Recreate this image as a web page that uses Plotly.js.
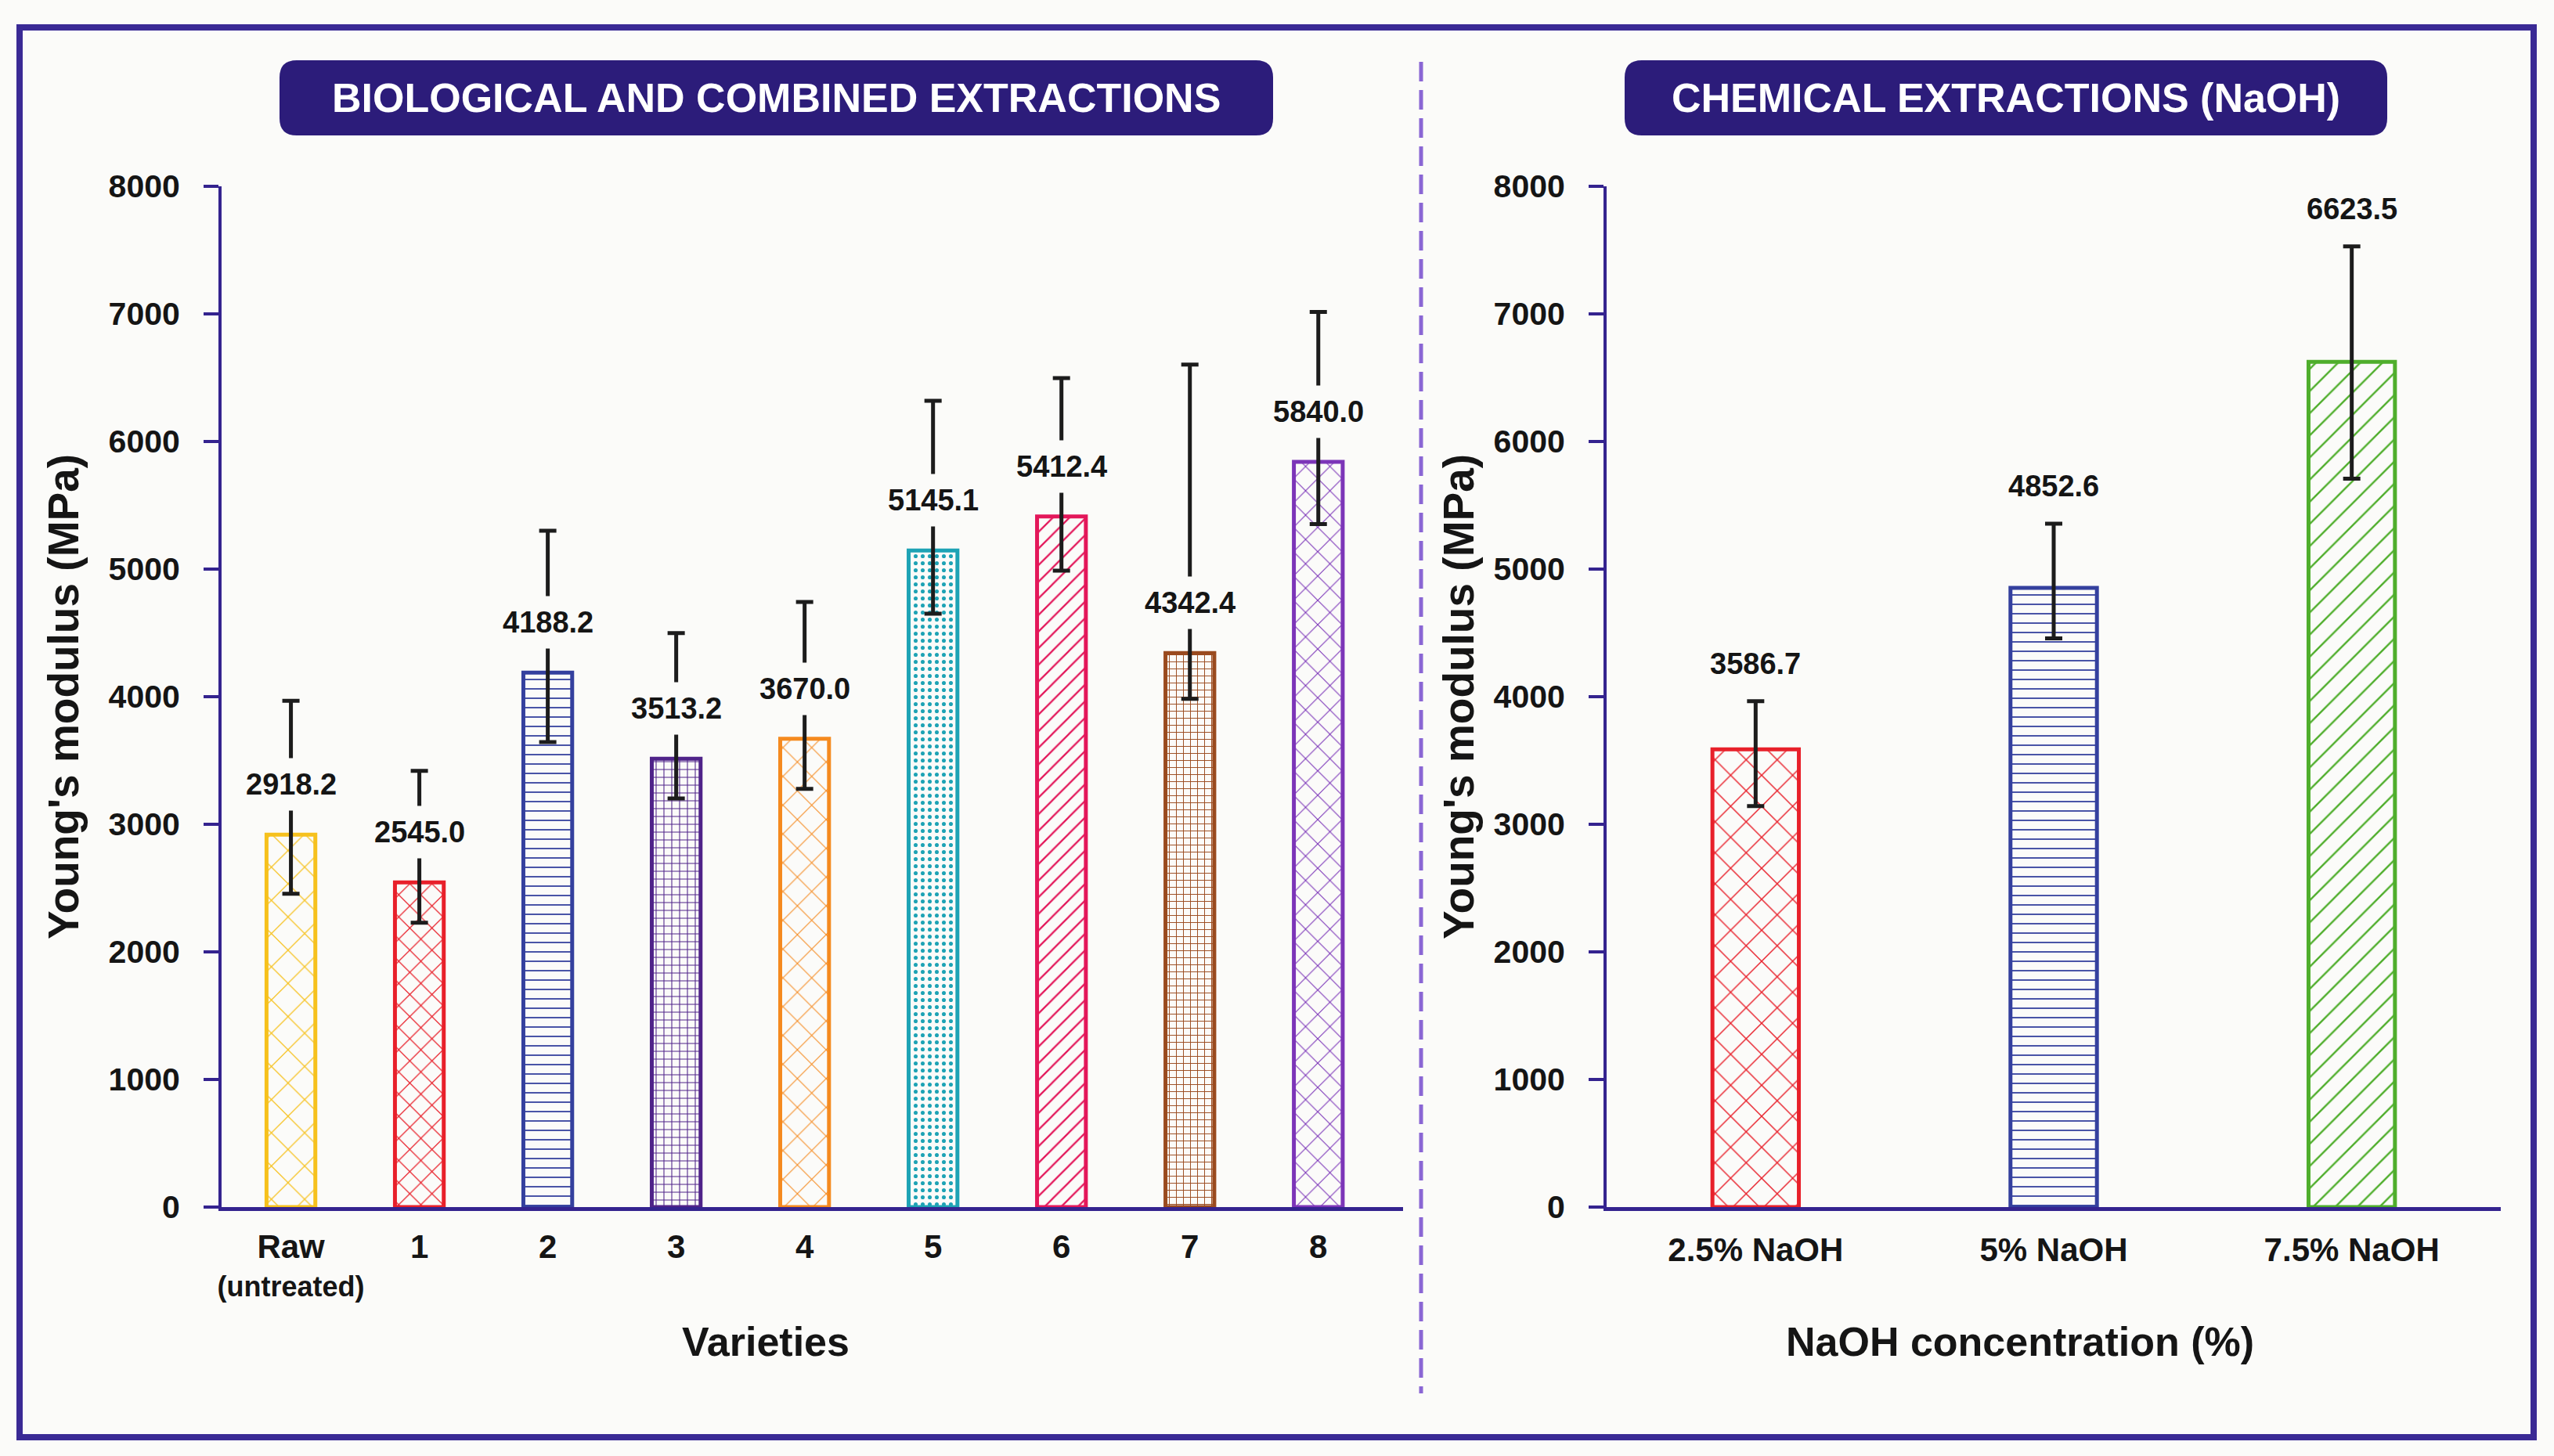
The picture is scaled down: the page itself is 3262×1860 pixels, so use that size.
<!DOCTYPE html>
<html><head><meta charset="utf-8">
<script src="https://cdn.plot.ly/plotly-3.0.1.min.js"></script>
<style>html,body{margin:0;padding:0;background:#fbfbf9;}</style>
</head><body>
<div id="chart" style="width:3262px;height:1860px"></div>
<script>
// ---------- DATA ----------
const varieties = ['Raw', '1', '2', '3', '4', '5', '6', '7', '8'];
const varietyTickText = ['Raw', '1', '2', '3', '4', '5', '6', '7', '8'];
const varietyTickNote = ['(untreated)', '', '', '', '', '', '', '', ''];
const modulusVarieties = [2918.2, 2545.0, 4188.2, 3513.2, 3670.0, 5145.1, 5412.4, 4342.4, 5840.0];
const errPlusVarieties = [1050, 873, 1112, 986, 1072, 1174, 1085, 2261, 1175];
const errMinusVarieties = [462, 317, 544, 310, 392, 495, 425, 360, 487];

const naohLevels = ['2.5% NaOH', '5% NaOH', '7.5% NaOH'];
const modulusNaOH = [3586.7, 4852.6, 6623.5];
const errPlusNaOH = [378, 503, 906];
const errMinusNaOH = [444, 395, 915];

const yTickVals = [0, 1000, 2000, 3000, 4000, 5000, 6000, 7000, 8000];

// ---------- STYLE ----------
const W = 3262, H = 1860;
const px = v => v / W;
const py = v => 1 - v / H;
const FONT = 'Liberation Sans, Arial, Helvetica, sans-serif';
const AXIS = '#34238f';
const BG = '#fbfbf9';
const TXT = '#151515';

const leftColors = ['#f6c11d', '#e8202a', '#34409e', '#4f2389', '#f58a1f', '#1ea3b5', '#e3175a', '#9a4a1e', '#7c35b8'];
const leftHatch  = ['#f8cd45', '#ec4a50', '#5d67b8', '#6b45a0', '#f7a04a', '#5cbfcc', '#e6406f', '#bf6f3a', '#a06ad0'];
const leftShapes = ['x', 'x', '-', '+', 'x', '.', '/', '+', 'x'];
const leftSizes  = [30, 20, 12, 10, 26, 9, 15, 9, 22];
const leftSolid  = [0.08, 0.12, 0.15, 0.2, 0.08, 0.25, 0.15, 0.2, 0.1];

const rightColors = ['#e8202a', '#34409e', '#4fae2c'];
const rightHatch  = ['#ec3a40', '#5560b5', '#6cbd4a'];
const rightShapes = ['x', '-', '/'];
const rightSizes  = [28, 12, 20];
const rightSolid  = [0.1, 0.15, 0.12];

const errStyle = {color: '#1c1c1c', thickness: 5, width: 11};

const traces = [
  {
    type: 'bar', x: varieties, y: modulusVarieties, xaxis: 'x', yaxis: 'y', width: 0.38,
    marker: {
      color: leftColors,
      line: {color: leftColors, width: 5},
      pattern: {shape: leftShapes, fgcolor: leftHatch, bgcolor: BG, size: leftSizes, solidity: leftSolid, fillmode: 'replace', fgopacity: 1}
    },
    error_y: Object.assign({type: 'data', symmetric: false, array: errPlusVarieties, arrayminus: errMinusVarieties}, errStyle),
    hoverinfo: 'skip', showlegend: false
  },
  {
    type: 'bar', x: naohLevels, y: modulusNaOH, xaxis: 'x2', yaxis: 'y2', width: 0.29,
    marker: {
      color: rightColors,
      line: {color: rightColors, width: 5},
      pattern: {shape: rightShapes, fgcolor: rightHatch, bgcolor: BG, size: rightSizes, solidity: rightSolid, fillmode: 'replace', fgopacity: 1}
    },
    error_y: Object.assign({type: 'data', symmetric: false, array: errPlusNaOH, arrayminus: errMinusNaOH}, errStyle),
    hoverinfo: 'skip', showlegend: false
  }
];

const tickFontY = {family: FONT, size: 41, color: TXT, weight: 'bold'};
const tickFontX = {family: FONT, size: 42, color: TXT, weight: 'bold'};
const yTitleFont = {family: FONT, size: 55, color: TXT, weight: 'bold'};
const xTitleFont = {family: FONT, size: 52, color: TXT, weight: 'bold'};

function yAxis(anchor, standoff) {
  return {
    anchor: anchor, domain: [py(1542), py(238)], range: [0, 8000],
    tickmode: 'array', tickvals: yTickVals,
    ticks: 'outside', ticklen: 19, tickwidth: 4, tickcolor: AXIS,
    showline: true, linewidth: 4, linecolor: AXIS,
    showgrid: false, zeroline: false, tickfont: tickFontY, ticklabelstandoff: 22,
    title: {text: "Young's modulus (MPa)", font: yTitleFont, standoff: standoff}
  };
}

// tick labels: main line at 42px, note line at 36px, base 38px for line spacing
const leftTickText = varietyTickText.map((t, i) =>
  '<span style="font-size:42px">' + t + '</span>' +
  (varietyTickNote[i] ? '<br><span style="font-size:36px">' + varietyTickNote[i] + '</span>' : ''));

const annotations = [];
// value labels (left): centered over each bar, sitting on the error bar
modulusVarieties.forEach((v, i) => {
  annotations.push({
    xref: 'x', yref: 'y', x: varieties[i], y: v, yshift: 64,
    text: v.toFixed(1), showarrow: false, bgcolor: BG, borderpad: 12,
    font: {family: FONT, size: 38, color: TXT, weight: 'bold'}
  });
});
// value labels (right): above error bar
modulusNaOH.forEach((v, i) => {
  annotations.push({
    xref: 'x2', yref: 'y2', x: naohLevels[i], y: v + errPlusNaOH[i], yshift: 48,
    text: v.toFixed(1), showarrow: false,
    font: {family: FONT, size: 38, color: TXT, weight: 'bold'}
  });
});
// banner titles
annotations.push({xref: 'paper', yref: 'paper', x: px(991), y: py(125), xanchor: 'center', yanchor: 'middle',
  text: 'BIOLOGICAL AND COMBINED EXTRACTIONS',
  showarrow: false, font: {family: FONT, size: 52, color: '#ffffff', weight: 'bold'}});
annotations.push({xref: 'paper', yref: 'paper', x: px(2562), y: py(125), xanchor: 'center', yanchor: 'middle',
  text: 'CHEMICAL EXTRACTIONS (NaOH)',
  showarrow: false, font: {family: FONT, size: 52, color: '#ffffff', weight: 'bold'}});
// x-axis titles (placed slightly left of axis centre, as in the original)
annotations.push({xref: 'paper', yref: 'paper', x: px(978), y: py(1714), xanchor: 'center', yanchor: 'middle',
  text: 'Varieties', showarrow: false, font: xTitleFont});
annotations.push({xref: 'paper', yref: 'paper', x: px(2580), y: py(1714), xanchor: 'center', yanchor: 'middle',
  text: 'NaOH concentration (%)', showarrow: false, font: xTitleFont});

function roundRect(x0, y0, x1, y1, r) {
  const X0 = px(x0), X1 = px(x1), Y0 = py(y0), Y1 = py(y1);
  const rx = r / W, ry = r / H;
  return `M ${X0 + rx},${Y0} L ${X1 - rx},${Y0} Q ${X1},${Y0} ${X1},${Y0 - ry} L ${X1},${Y1 + ry} Q ${X1},${Y1} ${X1 - rx},${Y1} ` +
         `L ${X0 + rx},${Y1} Q ${X0},${Y1} ${X0},${Y1 + ry} L ${X0},${Y0 - ry} Q ${X0},${Y0} ${X0 + rx},${Y0} Z`;
}

const shapes = [
  {type: 'rect', xref: 'paper', yref: 'paper', x0: px(25), x1: px(3236), y0: py(35), y1: py(1836),
   line: {color: '#3a2a95', width: 8}, fillcolor: 'rgba(0,0,0,0)'},
  {type: 'line', xref: 'paper', yref: 'paper', x0: px(1815), x1: px(1815), y0: py(79), y1: py(1780),
   line: {color: '#8a66d4', width: 5, dash: '25px,11px'}},
  {type: 'path', xref: 'paper', yref: 'paper', path: roundRect(357, 77, 1626, 173, 22), fillcolor: '#2c1c7a', line: {width: 0}},
  {type: 'path', xref: 'paper', yref: 'paper', path: roundRect(2075, 77, 3049, 173, 22), fillcolor: '#2c1c7a', line: {width: 0}}
];

const layout = {
  width: W, height: H,
  margin: {l: 0, r: 0, t: 0, b: 0},
  paper_bgcolor: BG, plot_bgcolor: 'rgba(0,0,0,0)',
  font: {family: FONT, color: TXT},
  xaxis: {
    anchor: 'y', domain: [px(283), px(1792)], type: 'category', range: [-0.54, 8.66],
    tickmode: 'array', tickvals: varieties, ticktext: leftTickText,
    ticks: '', showline: true, linewidth: 5, linecolor: AXIS, showgrid: false, zeroline: false,
    tickfont: {family: FONT, size: 38, color: TXT, weight: 'bold'}, ticklabelstandoff: 14
  },
  yaxis: yAxis('x', 21),
  xaxis2: {
    anchor: 'y2', domain: [px(2052), px(3194)], type: 'category', range: [-0.5, 2.5],
    ticks: '', showline: true, linewidth: 5, linecolor: AXIS, showgrid: false, zeroline: false,
    tickfont: tickFontX, ticklabelstandoff: 14
  },
  yaxis2: yAxis('x2', 8),
  annotations: annotations,
  shapes: shapes
};

Plotly.newPlot('chart', traces, layout, {staticPlot: true, displayModeBar: false});
</script>
</body></html>
